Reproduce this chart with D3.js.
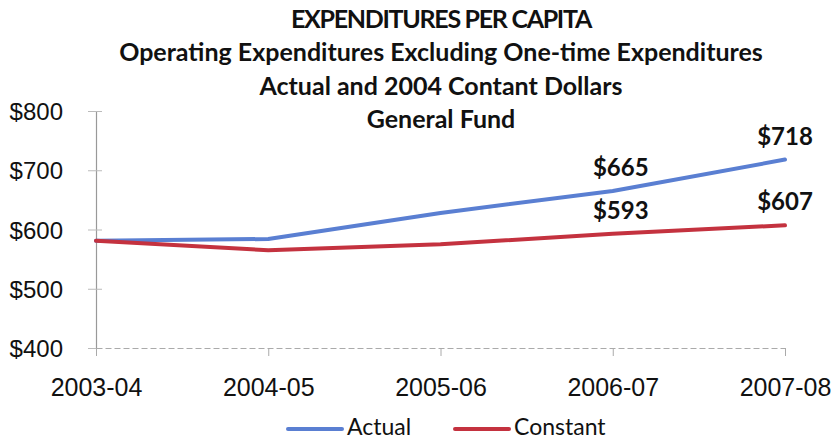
<!DOCTYPE html>
<html>
<head>
<meta charset="utf-8">
<script src="https://cdn.jsdelivr.net/npm/d3@7"></script>
<style>
  html, body { margin: 0; padding: 0; background: #fff; }
  svg { display: block; font-family: Lato, "Open Sans", sans-serif; }
</style>
</head>
<body>
<svg id="chart" width="833" height="441"></svg>
<script>
const titleLines = [
  "EXPENDITURES PER CAPITA",
  "Operating Expenditures Excluding One-time  Expenditures",
  "Actual and 2004 Contant Dollars",
  "General Fund"
];
const categories = ["2003-04", "2004-05", "2005-06", "2006-07", "2007-08"];
const actual   = [581, 584, 628, 665, 718];
const constant = [581, 565, 575, 593, 607];
const yTicks = [400, 500, 600, 700, 800];
const seriesNames = ["Actual", "Constant"];
const colors = ["#5a7fd2", "#c4323f"];
// which points carry a value label
const labelIdx = [3, 4];

const svg = d3.select("#chart");
const margin = { left: 96, right: 48, top: 111, bottom: 93 };
const W = 833, H = 441;

const x = d3.scalePoint().domain(categories).range([margin.left, W - margin.right]);
const y = d3.scaleLinear().domain([400, 800]).range([H - margin.bottom, margin.top]);

// title
svg.append("g").selectAll("text").data(titleLines).join("text")
  .attr("x", 441).attr("y", (d, i) => 28 + i * 33.3)
  .attr("text-anchor", "middle")
  .attr("font-weight", "bold").attr("font-size", 25)
  .attr("letter-spacing", (d, i) => i === 0 ? -1.3 : 0)
  .attr("fill", "#111")
  .text(d => d);

// y axis
const yAxis = svg.append("g")
  .attr("transform", `translate(${margin.left},0)`)
  .call(d3.axisLeft(y).tickValues(yTicks).tickSize(8).tickPadding(25).tickFormat(d => "$" + d));
yAxis.select(".domain").attr("stroke", "#999").attr("stroke-width", 1.2);
yAxis.selectAll(".tick line").attr("stroke", "#bbb").attr("x2", 6).attr("x1", -8);
yAxis.selectAll(".tick text").attr("font-size", 24).attr("fill", "#111").attr("dy", "0.36em");

// x axis
const xAxis = svg.append("g")
  .attr("transform", `translate(0,${y(400)})`)
  .call(d3.axisBottom(x).tickSize(8).tickSizeOuter(0).tickPadding(22));
xAxis.select(".domain").attr("stroke", "#aaa").attr("stroke-dasharray", "6,3").attr("stroke-width", 1);
xAxis.selectAll(".tick line").attr("stroke", "#aaa");
xAxis.selectAll(".tick text").attr("font-size", 25).attr("fill", "#111");

// lines
const line = d3.line().x((d, i) => x(categories[i])).y(d => y(d));
[actual, constant].forEach((vals, s) => {
  svg.append("path").datum(vals)
    .attr("fill", "none").attr("stroke", colors[s])
    .attr("stroke-width", 4).attr("stroke-linejoin", "round").attr("stroke-linecap", "round")
    .attr("d", line);
});

// value labels
[actual, constant].forEach((vals, s) => {
  svg.append("g").selectAll("text").data(labelIdx).join("text")
    .attr("x", i => x(categories[i]) + (i === 4 ? 0 : 8))
    .attr("y", i => y(vals[i]) - 15)
    .attr("text-anchor", "middle")
    .attr("font-weight", "bold").attr("font-size", 24).attr("fill", "#111")
    .text(i => "$" + vals[i]);
});

// legend
const legend = svg.append("g");
const legendX = [288, 455];
seriesNames.forEach((name, s) => {
  legend.append("line")
    .attr("x1", legendX[s]).attr("x2", legendX[s] + 54)
    .attr("y1", 429).attr("y2", 429)
    .attr("stroke", colors[s]).attr("stroke-width", 4).attr("stroke-linecap", "round");
  legend.append("text")
    .attr("x", legendX[s] + 59).attr("y", 435)
    .attr("font-size", 23).attr("fill", "#111")
    .text(name);
});
</script>
</body>
</html>
